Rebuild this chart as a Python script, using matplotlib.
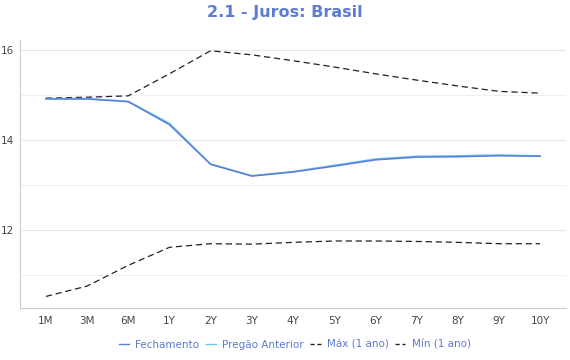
import matplotlib
matplotlib.use("Agg")
import matplotlib.pyplot as plt
from matplotlib.lines import Line2D

categories = ["1M", "3M", "6M", "1Y", "2Y", "3Y", "4Y", "5Y", "6Y", "7Y", "8Y", "9Y", "10Y"]
fechamento = [14.91, 14.91, 14.85, 14.34, 13.46, 13.20, 13.29, 13.42, 13.56, 13.62, 13.63, 13.65, 13.64]
pregao_anterior = [14.92, 14.92, 14.86, 14.37, 13.47, 13.21, 13.30, 13.44, 13.58, 13.64, 13.65, 13.67, 13.65]
maximo = [14.93, 14.95, 14.98, 15.47, 15.98, 15.89, 15.76, 15.62, 15.47, 15.33, 15.20, 15.08, 15.04]
minimo = [10.53, 10.76, 11.22, 11.62, 11.70, 11.69, 11.73, 11.76, 11.76, 11.75, 11.73, 11.70, 11.70]

blue = "#5a7ed8"
cyan = "#66c8e4"
text_blue = "#5b7bd5"

fig = plt.figure(figsize=(5.7, 3.6), dpi=100)
ax = fig.add_axes([0.035, 0.144, 0.958, 0.745])
x = list(range(len(categories)))

ax.plot(x, maximo, color="#222222", lw=0.9, ls=(0, (5, 3)))
ax.plot(x, minimo, color="#222222", lw=0.9, ls=(0, (5, 3)))
ax.plot(x, pregao_anterior, color=cyan, lw=1.1)
ax.plot(x, fechamento, color=blue, lw=1.1)

ax.set_xlim(-0.63, 12.63)
ax.set_ylim(10.27, 16.22)
ax.set_xticks(x)
ax.set_xticklabels(categories)
ax.set_yticks([12, 14, 16])
ax.set_yticks([11, 13, 15], minor=True)
ax.grid(axis="y", which="major", color="#e6e6e6", lw=0.8)
ax.grid(axis="y", which="minor", color="#f0f0f0", lw=0.8)
ax.set_axisbelow(True)
ax.tick_params(axis="both", which="both", length=0, labelsize=7.5, colors="#444444")
ax.tick_params(axis="x", pad=6)
ax.tick_params(axis="y", pad=4)
for s in ["top", "right"]:
    ax.spines[s].set_visible(False)
for s in ["left", "bottom"]:
    ax.spines[s].set_color("#cccccc")
    ax.spines[s].set_linewidth(0.8)

fig.text(0.5, 0.965, "2.1 - Juros: Brasil", ha="center", va="center",
         fontsize=11.5, fontweight="bold", color=text_blue)

handles = [
    Line2D([], [], color=blue, lw=1.0),
    Line2D([], [], color=cyan, lw=1.0),
    Line2D([], [], color="#222222", lw=1.0, ls=(0, (3, 2))),
    Line2D([], [], color="#222222", lw=1.0, ls=(0, (3, 2))),
]
labels = ["Fechamento", "Pregão Anterior", "Máx (1 ano)", "Mín (1 ano)"]
leg = fig.legend(handles, labels, loc="center", bbox_to_anchor=(0.517, 0.043), ncol=4,
                 frameon=False, fontsize=7.5, handlelength=1.0, handletextpad=0.6,
                 columnspacing=0.6)
for t in leg.get_texts():
    t.set_color(text_blue)

fig.savefig("out.png", dpi=100)
